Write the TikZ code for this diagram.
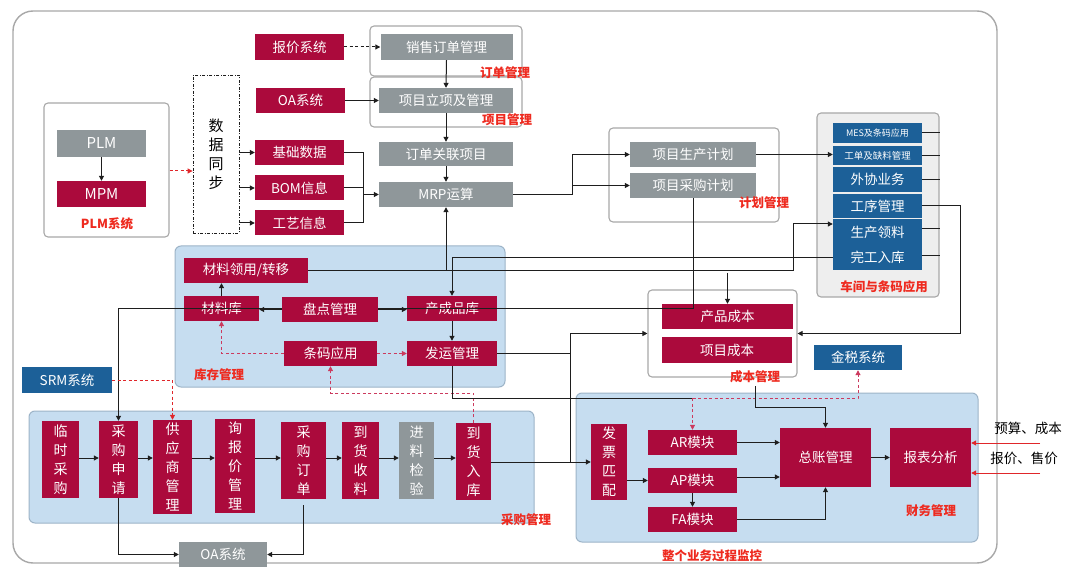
\documentclass[tikz,border=0pt]{standalone}
\usepackage{fontspec}
\setmainfont{Noto Sans CJK SC}
\usetikzlibrary{arrows.meta,calc}
\definecolor{crim}{HTML}{AB0A3C}
\definecolor{gbox}{HTML}{8F979A}
\definecolor{bbox}{HTML}{1C6098}
\definecolor{lblue}{HTML}{C6DDF0}
\definecolor{pborder}{HTML}{9DB4C8}
\definecolor{gborder}{HTML}{A8A8A8}
\definecolor{lab}{HTML}{EE2A1F}
\definecolor{rdash}{HTML}{CC3A5E}
\definecolor{lgray}{HTML}{EEEEEE}
\definecolor{ln}{HTML}{1E1E1E}
\definecolor{inred}{HTML}{E0262A}
\begin{document}
\begin{tikzpicture}[x=1pt,y=-1pt,
  sz/.style 2 args={minimum width=#1pt,minimum height=#2pt},
  box/.style={draw=none,inner sep=0pt,text=white,font=\fontsize{13.5}{16}\selectfont,align=center},
  rb/.style={box,fill=crim},
  gb/.style={box,fill=gbox},
  bb/.style={box,fill=bbox},
  vt/.style={font=\fontsize{14}{19}\selectfont},
  grp/.style={draw=gborder,line width=1.1pt,rounded corners=4pt,fill=white,inner sep=0pt},
  pnl/.style={draw=pborder,line width=1pt,rounded corners=6pt,fill=lblue,inner sep=0pt},
  lbl/.style={text=lab,font=\bfseries\fontsize{12.5}{14}\selectfont,inner sep=0pt},
  con/.style={draw=ln,line width=1pt},
  arr/.style={-{Triangle[length=5pt,width=5pt]}},
  rd/.style={draw=rdash,line width=1pt,dash pattern=on 3pt off 2.5pt},
  bdash/.style={draw=ln,line width=1pt,dash pattern=on 3pt off 2.5pt},
  redln/.style={draw=inred,line width=1pt}
]
\useasboundingbox (0,0) rectangle (1080,588);
\fill[white] (0,0) rectangle (1080,588);
\draw[gborder,line width=1.4pt,rounded corners=20pt] (13,11) rectangle (997,563);

% group frames and panels
\node[grp,sz={125}{134}] (plmsys) at (106.5,170) {};
\node[draw=ln,line width=0.8pt,dash pattern=on 3pt off 1.5pt on 1pt off 1.5pt,sz={46}{158},inner sep=0pt,
      font=\fontsize{15}{19}\selectfont,align=center] (sjtb) at (216,154) {数\\据\\同\\步};
\node[grp,sz={152}{50}] (ddbox) at (446,51) {};
\node[grp,sz={152}{50}] (xmbox) at (446,102) {};
\node[grp,sz={170}{94}] (jhbox) at (694,175) {};
\node[grp,fill=lgray,sz={122}{184}] (cjbox) at (878,205) {};
\node[pnl,sz={330}{141}] (kcbox) at (340,316.5) {};
\node[grp,sz={149}{87}] (cbbox) at (722.5,333.5) {};
\node[pnl,sz={505}{112}] (cgbox) at (281.5,467) {};
\node[pnl,sz={402}{149}] (cwbox) at (777,467.5) {};

% PLM
\node[gb,sz={89}{27},font=\fontsize{15}{17}\selectfont] (plm) at (101.5,143.5) {PLM};
\node[rb,sz={89}{26},font=\fontsize{15}{17}\selectfont] (mpm) at (101.5,194) {MPM};
\node[lbl] at (107,224) {PLM系统};

% left input boxes
\node[rb,sz={89}{26}] (bj) at (299.5,47) {报价系统};
\node[rb,sz={89}{25}] (oa1) at (300.5,100.5) {OA系统};
\node[rb,sz={89}{25}] (jc) at (299.5,152.5) {基础数据};
\node[rb,sz={89}{25}] (bom) at (299.5,188) {BOM信息};
\node[rb,sz={89}{25}] (gy) at (299.5,223) {工艺信息};

% centre column
\node[gb,sz={132}{26}] (xsdd) at (446.5,47) {销售订单管理};
\node[gb,sz={134}{25}] (xmlx) at (446,100.5) {项目立项及管理};
\node[gb,sz={134}{24}] (ddxm) at (446,154) {订单关联项目};
\node[gb,sz={134}{25}] (mrp) at (446,194.5) {MRP运算};
\node[lbl] at (505,73) {订单管理};
\node[lbl] at (507,120) {项目管理};

% plan
\node[gb,sz={126}{25}] (xmsc) at (693,154.5) {项目生产计划};
\node[gb,sz={126}{25}] (xmcg) at (693,185.5) {项目采购计划};
\node[lbl] at (764,203) {计划管理};

% workshop
\node[bb,sz={89}{20},font=\fontsize{9}{10}\selectfont] (mes) at (877.5,133) {MES及条码应用};
\node[bb,sz={89}{19},font=\fontsize{9.5}{10}\selectfont] (gd) at (877.5,155.5) {工单及缺料管理};
\node[bb,sz={89}{25}] (wx) at (877.5,179.5) {外协业务};
\node[bb,sz={89}{24}] (gx) at (877.5,206) {工序管理};
\node[bb,sz={89}{26}] (sc) at (877.5,232) {生产领料};
\node[bb,sz={89}{25}] (wg) at (877.5,257.5) {完工入库};
\node[lbl] at (884,287) {车间与条码应用};

% inventory
\node[rb,sz={124}{25}] (clly) at (246,270.5) {材料领用/转移};
\node[rb,sz={75}{25}] (clk) at (221.5,308.5) {材料库};
\node[rb,sz={90}{25}] (ccp) at (452,308.5) {产成品库};
\node[rb,sz={93}{25}] (tm) at (330.5,353.5) {条码应用};
\node[rb,sz={90}{25}] (fy) at (452,353.5) {发运管理};
\node[lbl] at (219,375) {库存管理};

% cost
\node[rb,sz={131}{25}] (cpcb) at (727.5,316.5) {产品成本};
\node[rb,sz={130}{26}] (xmcb) at (727,350) {项目成本};
\node[lbl] at (755,377) {成本管理};
\node[bb,sz={88}{25}] (js) at (858,357.5) {金税系统};

% purchase
\node[bb,sz={90}{26}] (srm) at (67,380) {SRM系统};
\node[rb,vt,sz={37}{77}] (ls) at (60.5,459.5) {临\\时\\采\\购};
\node[rb,vt,sz={39}{77}] (sq) at (118.5,459.5) {采\\购\\申\\请};
\node[rb,vt,sz={39}{94}] (gys) at (172.5,467) {供\\应\\商\\管\\理};
\node[rb,vt,sz={40}{94}] (xbj) at (235,466) {询\\报\\价\\管\\理};
\node[rb,vt,sz={45}{77}] (dd) at (303.5,460.5) {采\\购\\订\\单};
\node[rb,vt,sz={37}{77}] (sl) at (360.5,460.5) {到\\货\\收\\料};
\node[gb,vt,sz={35}{77}] (jy) at (416.5,460.5) {进\\料\\检\\验};
\node[rb,vt,sz={35}{77}] (rk) at (473.5,461.5) {到\\货\\入\\库};
\node[gb,sz={88}{25}] (oa2) at (223,554.5) {OA系统};
\node[lbl] at (526,520) {采购管理};

% finance
\node[rb,vt,sz={36}{76}] (fp) at (609,462) {发\\票\\匹\\配};
\node[rb,sz={89}{25}] (ar) at (692.5,442.5) {AR模块};
\node[rb,sz={89}{25}] (ap) at (692.5,480.5) {AP模块};
\node[rb,sz={89}{25}] (fa) at (692.5,519.5) {FA模块};
\node[rb,sz={91}{59}] (zz) at (825.5,457.5) {总账管理};
\node[rb,sz={81}{59}] (bb) at (930.5,457.5) {报表分析};
\node[lbl] at (931,511) {财务管理};
\node[lbl] at (712,556) {整个业务过程监控};
\node[font=\fontsize{13.5}{16}\selectfont,inner sep=0pt] (t1) at (1028,428) {预算、成本};
\node[font=\fontsize{13.5}{16}\selectfont,inner sep=0pt] (t2) at (1024,458) {报价、售价};

% ---------- connectors ----------
\draw[con,arr] (plm) -- (mpm);
\draw[rd,arr,draw=inred] (plmsys.east |- 0,171) -- (sjtb.west |- 0,171);
\draw[con,arr] (sjtb.east |- jc.west) -- (jc.west);
\draw[con,arr] (sjtb.east |- bom.west) -- (bom.west);
\draw[con,arr] (sjtb.east |- gy.west) -- (gy.west);

\draw[bdash,arr] (bj.east) -- (xsdd.west);
\draw[con,arr] (oa1.east) -- (xmlx.west);
\draw[con,arr] (xsdd.south) -- (xmlx.north);
\draw[con,arr] (xmlx.south) -- (ddxm.north);
\draw[con,arr] (ddxm.south) -- (mrp.north);
\draw[con] (jc.east) -- (363,152.5) -- (363,223) -- (gy.east);
\draw[con] (bom.east) -- (363,188);
\draw[con,arr] (363,194.5) -- (mrp.west);
\draw[con,arr] (mrp.east) -- (572,194.5) |- (xmsc.west);
\draw[con,arr] (572,185.5) -- (xmcg.west);
\draw[con,arr] (xmsc.east) -- (gd.west |- xmsc.east);

\foreach \n/\yy in {mes/133,gd/155.5,wx/179.5,sc/229,wg/256}
  \draw[con] (\n.east |- 0,\yy) -- (940,\yy);
\draw[con,arr] (gx.east) -- (960,206) |- (cbbox.east);

\draw[con,arr] (clly.east) -- (793,270.5) |- ($(sc.west)+(0,-8)$);
\draw[con,arr] (mrp.south |- clly.east) -- (mrp.south);
\draw[con,arr] (cpcb.north |- 0,273) -- (cpcb.north);
\draw[con,arr] (wg.west) -| (ccp.north);
\draw[con,arr] (clk.north) -- (clk.north |- clly.south);
\draw[con,arr] (xmcg.south) -- (693,309) -| (sq.north);

\node[rb,sz={96}{25}] (pd) at (330,309.5) {盘点管理};
\draw[con,arr] (pd.west) -- (clk.east |- pd.west);
\draw[con,arr] (pd.east) -- (ccp.west |- pd.east);
\draw[con,arr] (ccp.south) -- (fy.north);
\draw[rd,arr] (tm.west) -| (clk.south);
\draw[rd,arr] (tm.east) -- (fy.west);
\draw[rd,arr] (rk.north) -- (473.5,393) -| (tm.south);

\coordinate (arj) at (692.5,398);
\draw[con] (fy.south) |- (arj);
\draw[rd,arr] (arj) -- (ar.north);
\draw[rd,arr] (arj) -| (js.south);
\draw[con,arr] (fy.east) -- (570,353.5) |- (cbbox.west);
\draw[con,arr] (570,353.5) |- (fp.west);
\draw[con] (rk.east |- fp.west) -- (570,462);

\coordinate (cbo) at (755,386);
\draw[con,arr] (cbo) -- (755,407) -| (zz.north);
\draw[con,arr] (ar.east) -- (zz.west |- ar.east);
\draw[con,arr] (ap.east |- 0,477) -- (zz.west |- 0,477);
\draw[con,arr] (fa.east) -| (zz.south);
\draw[con,arr] (ap.south) -- (fa.north);
\draw[con,arr] (fp.east |- ap.west) -- (ap.west);
\draw[con,arr] (zz.east) -- (bb.west);
\coordinate (in1) at (1040,443);
\coordinate (in2) at (1040,473);
\draw[redln,arr] (in1) -- (bb.east |- in1);
\draw[redln,arr] (in2) -- (bb.east |- in2);

\foreach \a/\b in {ls/sq,sq/gys,gys/xbj,xbj/dd,dd/sl,sl/jy,jy/rk}
  \draw[con,arr] (\a.east |- 0,458) -- (\b.west |- 0,458);
\draw[con,arr] (sq.south) |- (oa2.west);
\draw[con,arr] (dd.south |- 0,505) |- (oa2.east);
\draw[rd,arr,draw=inred] (srm.east) -| (gys.north);
\end{tikzpicture}
\end{document}
